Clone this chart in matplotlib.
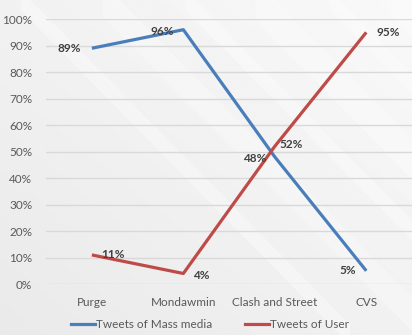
import matplotlib.pyplot as plt
import numpy as np
from matplotlib.lines import Line2D

categorias = ["Purge", "Mondawmin", "Clash and Street", "CVS"]
mass_media = [0.89, 0.96, 0.48, 0.05]
usuarios = [0.11, 0.04, 0.52, 0.95]

azul = "#4a7ebb"
rojo = "#be4b48"

plt.rcParams["font.family"] = ["Lato", "DejaVu Sans"]

fig = plt.figure(figsize=(4.12, 3.35), dpi=100)

# fondo gris degradado con vetas claras
fondo = fig.add_axes([0, 0, 1, 1], zorder=0)
fondo.set_axis_off()
gx, gy = np.meshgrid(np.linspace(0, 1, 200), np.linspace(0, 1, 200))
grad = 0.915 + 0.06 * (gx * 0.5 + gy * 0.5)
fondo.imshow(grad, cmap="gray", vmin=0, vmax=1, extent=[0, 1, 0, 1],
             aspect="auto", origin="lower")
for x0, w, a in [(0.05, 0.03, 0.35), (0.25, 0.05, 0.3), (0.45, 0.03, 0.35),
                 (0.62, 0.06, 0.3), (0.8, 0.03, 0.35), (0.95, 0.05, 0.3)]:
    t = np.linspace(0, 1, 50)
    xs = x0 + 0.8 * t
    ys = 1 - t * 1.0
    fondo.fill_between(xs, ys - w, ys + w, color="white", alpha=a, lw=0)
fondo.set_xlim(0, 1)
fondo.set_ylim(0, 1)

ax = fig.add_axes([0.112, 0.152, 0.888, 0.791], zorder=1)
ax.patch.set_alpha(0)
x = np.arange(len(categorias))

ax.plot(x, mass_media, color=azul, lw=2.3, solid_capstyle="butt", zorder=3)
ax.plot(x, usuarios, color=rojo, lw=2.3, solid_capstyle="butt", zorder=3)

ax.set_xlim(-0.5, len(categorias) - 0.5)
ax.set_ylim(0, 1)
ax.set_yticks(np.arange(0, 1.01, 0.1))
ax.set_yticklabels([f"{int(round(v * 100))}%" for v in np.arange(0, 1.01, 0.1)])
ax.set_xticks(x)
ax.set_xticklabels(categorias)
ax.tick_params(length=0, labelsize=8.5, colors="#595959")
ax.tick_params(axis="y", pad=10)
ax.tick_params(axis="x", pad=9)
ax.grid(axis="y", color="#d9d9d9", lw=1)
for s in ax.spines.values():
    s.set_visible(False)

# etiquetas de valores
txt = dict(fontsize=8.5, color="#404040", fontweight="bold")
desp_m = [(-7.5, 0, "right"), (-7, -1, "right"), (-6, -1, "right"), (-7, 0, "right")]
desp_u = [(7, 0, "left"), (7, -1.5, "left"), (3, 1, "left"), (7.5, 0, "left")]
for serie, desp in [(mass_media, desp_m), (usuarios, desp_u)]:
    for i, v in enumerate(serie):
        dx, dy, ha = desp[i]
        ax.annotate(f"{int(round(v * 100))}%", (x[i], v), xytext=(dx, dy),
                    textcoords="offset points", ha=ha, va="center", **txt)

handles = [Line2D([], [], color=azul, lw=2.3), Line2D([], [], color=rojo, lw=2.3)]
fig.legend(handles, ["Tweets of Mass media", "Tweets of User"], loc="center",
           bbox_to_anchor=(0.51, 0.03), ncol=2, frameon=False, fontsize=8.5,
           handlelength=2.0, handletextpad=0.1, columnspacing=2.8,
           labelcolor="#595959")

fig.savefig("out.png", dpi=100)
